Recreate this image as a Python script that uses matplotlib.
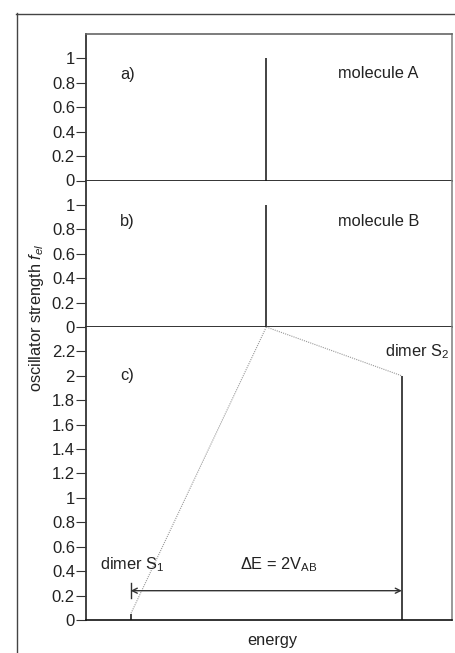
import matplotlib
matplotlib.use("Agg")
import matplotlib.pyplot as plt
from matplotlib.lines import Line2D
from matplotlib.ticker import FuncFormatter
import numpy as np

plt.rcParams['font.family'] = ['Liberation Sans', 'DejaVu Sans']
plt.rcParams['mathtext.fontset'] = 'custom'
plt.rcParams['mathtext.rm'] = 'Liberation Sans'
plt.rcParams['mathtext.it'] = 'Liberation Sans:italic'
plt.rcParams['mathtext.bf'] = 'Liberation Sans:bold'

# ---- data ----
monomer_energy = 0.0
coupling_V = 1.0
energy_A = [0.0]
strength_A = [1.0]
energy_B = [0.0]
strength_B = [1.0]
dimer_energies = [-1.0, 1.0]        # S1, S2
dimer_strengths = [0.05, 2.0]       # S1, S2
ticks_ab = [0, 0.2, 0.4, 0.6, 0.8, 1.0]
ticks_c = [0, 0.2, 0.4, 0.6, 0.8, 1.0, 1.2, 1.4, 1.6, 1.8, 2.0, 2.2]
xlim = (-1.33, 1.37)

TXT = '#222222'
FS = 11.8

fig = plt.figure(figsize=(4.56, 6.53), dpi=100)
gs = fig.add_gridspec(3, 1, height_ratios=[1, 1, 2], hspace=0,
                      left=86/456, right=452/456, bottom=1-620/653, top=1-34/653)
axA = fig.add_subplot(gs[0])
axB = fig.add_subplot(gs[1])
axC = fig.add_subplot(gs[2])

fmt = FuncFormatter(lambda v, p: ('%g' % round(v, 2)))

for ax, ylim, ticks in [(axA, (0, 1.2), ticks_ab), (axB, (0, 1.2), ticks_ab), (axC, (0, 2.4), ticks_c)]:
    ax.set_xlim(*xlim)
    ax.set_ylim(*ylim)
    ax.set_yticks(ticks)
    ax.yaxis.set_major_formatter(fmt)
    ax.set_xticks([])
    ax.tick_params(axis='y', direction='out', length=7, width=0.8, color='#333333',
                   labelsize=12, labelcolor=TXT, pad=1)
    ax.spines['left'].set_color('#333333')
    ax.spines['left'].set_linewidth(1.3)
    ax.spines['bottom'].set_color('#111111')
    ax.spines['bottom'].set_linewidth(1.2)
    ax.spines['right'].set_color('#888888')
    ax.spines['right'].set_linewidth(1.2)
    ax.spines['top'].set_color('#666666')
    ax.spines['top'].set_linewidth(1.2)
    ax.set_facecolor('white')

axB.spines['top'].set_visible(False)
axC.spines['top'].set_visible(False)

# sticks
axA.vlines(energy_A, 0, strength_A, color='#222222', linewidth=1.2)
axB.vlines(energy_B, 0, strength_B, color='#222222', linewidth=1.2)
axC.vlines(dimer_energies, 0, dimer_strengths, color='#222222', linewidth=1.2)

# dotted connectors
top_c = axC.get_ylim()[1]
for e, s in zip(dimer_energies, dimer_strengths):
    axC.plot([monomer_energy, e], [top_c, s], color='#999999', linestyle=(0, (1, 1)),
             linewidth=0.8, clip_on=False)

# energy gap arrow
y_arrow = 0.24
axC.annotate('', xy=(dimer_energies[1], y_arrow), xytext=(dimer_energies[0], y_arrow),
             arrowprops=dict(arrowstyle='<->', color='#333333', lw=1.0,
                             shrinkA=0, shrinkB=0, mutation_scale=9))
axC.plot([dimer_energies[0], dimer_energies[0]], [0.18, 0.30], color='#333333', linewidth=1.0)

# labels
axA.text(-1.079, 0.87, 'a)', fontsize=FS, color=TXT, ha='left', va='center')
axA.text(0.528, 0.877, 'molecule A', fontsize=FS, color=TXT, ha='left', va='center')
axB.text(-1.079, 0.866, 'b)', fontsize=FS, color=TXT, ha='left', va='center')
axB.text(0.528, 0.866, 'molecule B', fontsize=FS, color=TXT, ha='left', va='center')
axC.text(-1.079, 2.0, 'c)', fontsize=FS, color=TXT, ha='left', va='center')
axC.text(0.875, 2.2, 'dimer S$_2$', fontsize=FS, color=TXT, ha='left', va='center')
axC.text(-1.227, 0.45, 'dimer S$_1$', fontsize=FS, color=TXT, ha='left', va='center')
axC.text(-0.194, 0.45, 'ΔE = 2V$_{\\mathrm{AB}}$', fontsize=FS, color=TXT, ha='left', va='center')

fig.text(272/456, 1-640/653, 'energy', fontsize=FS, color=TXT, ha='center', va='center')
fig.text(37/456, 1-318/653, 'oscillator strength $f_{el}$', fontsize=FS, color=TXT,
         ha='center', va='center', rotation=90)

# outer frame (left and top edges)
fig.add_artist(Line2D([16.5/456, 16.5/456], [1-13/653, 0], transform=fig.transFigure,
                      color='#444444', linewidth=1.0))
fig.add_artist(Line2D([16/456, 455/456], [1-13.5/653, 1-13.5/653], transform=fig.transFigure,
                      color='#444444', linewidth=1.0))

fig.savefig('out.png', dpi=100, facecolor='white')
